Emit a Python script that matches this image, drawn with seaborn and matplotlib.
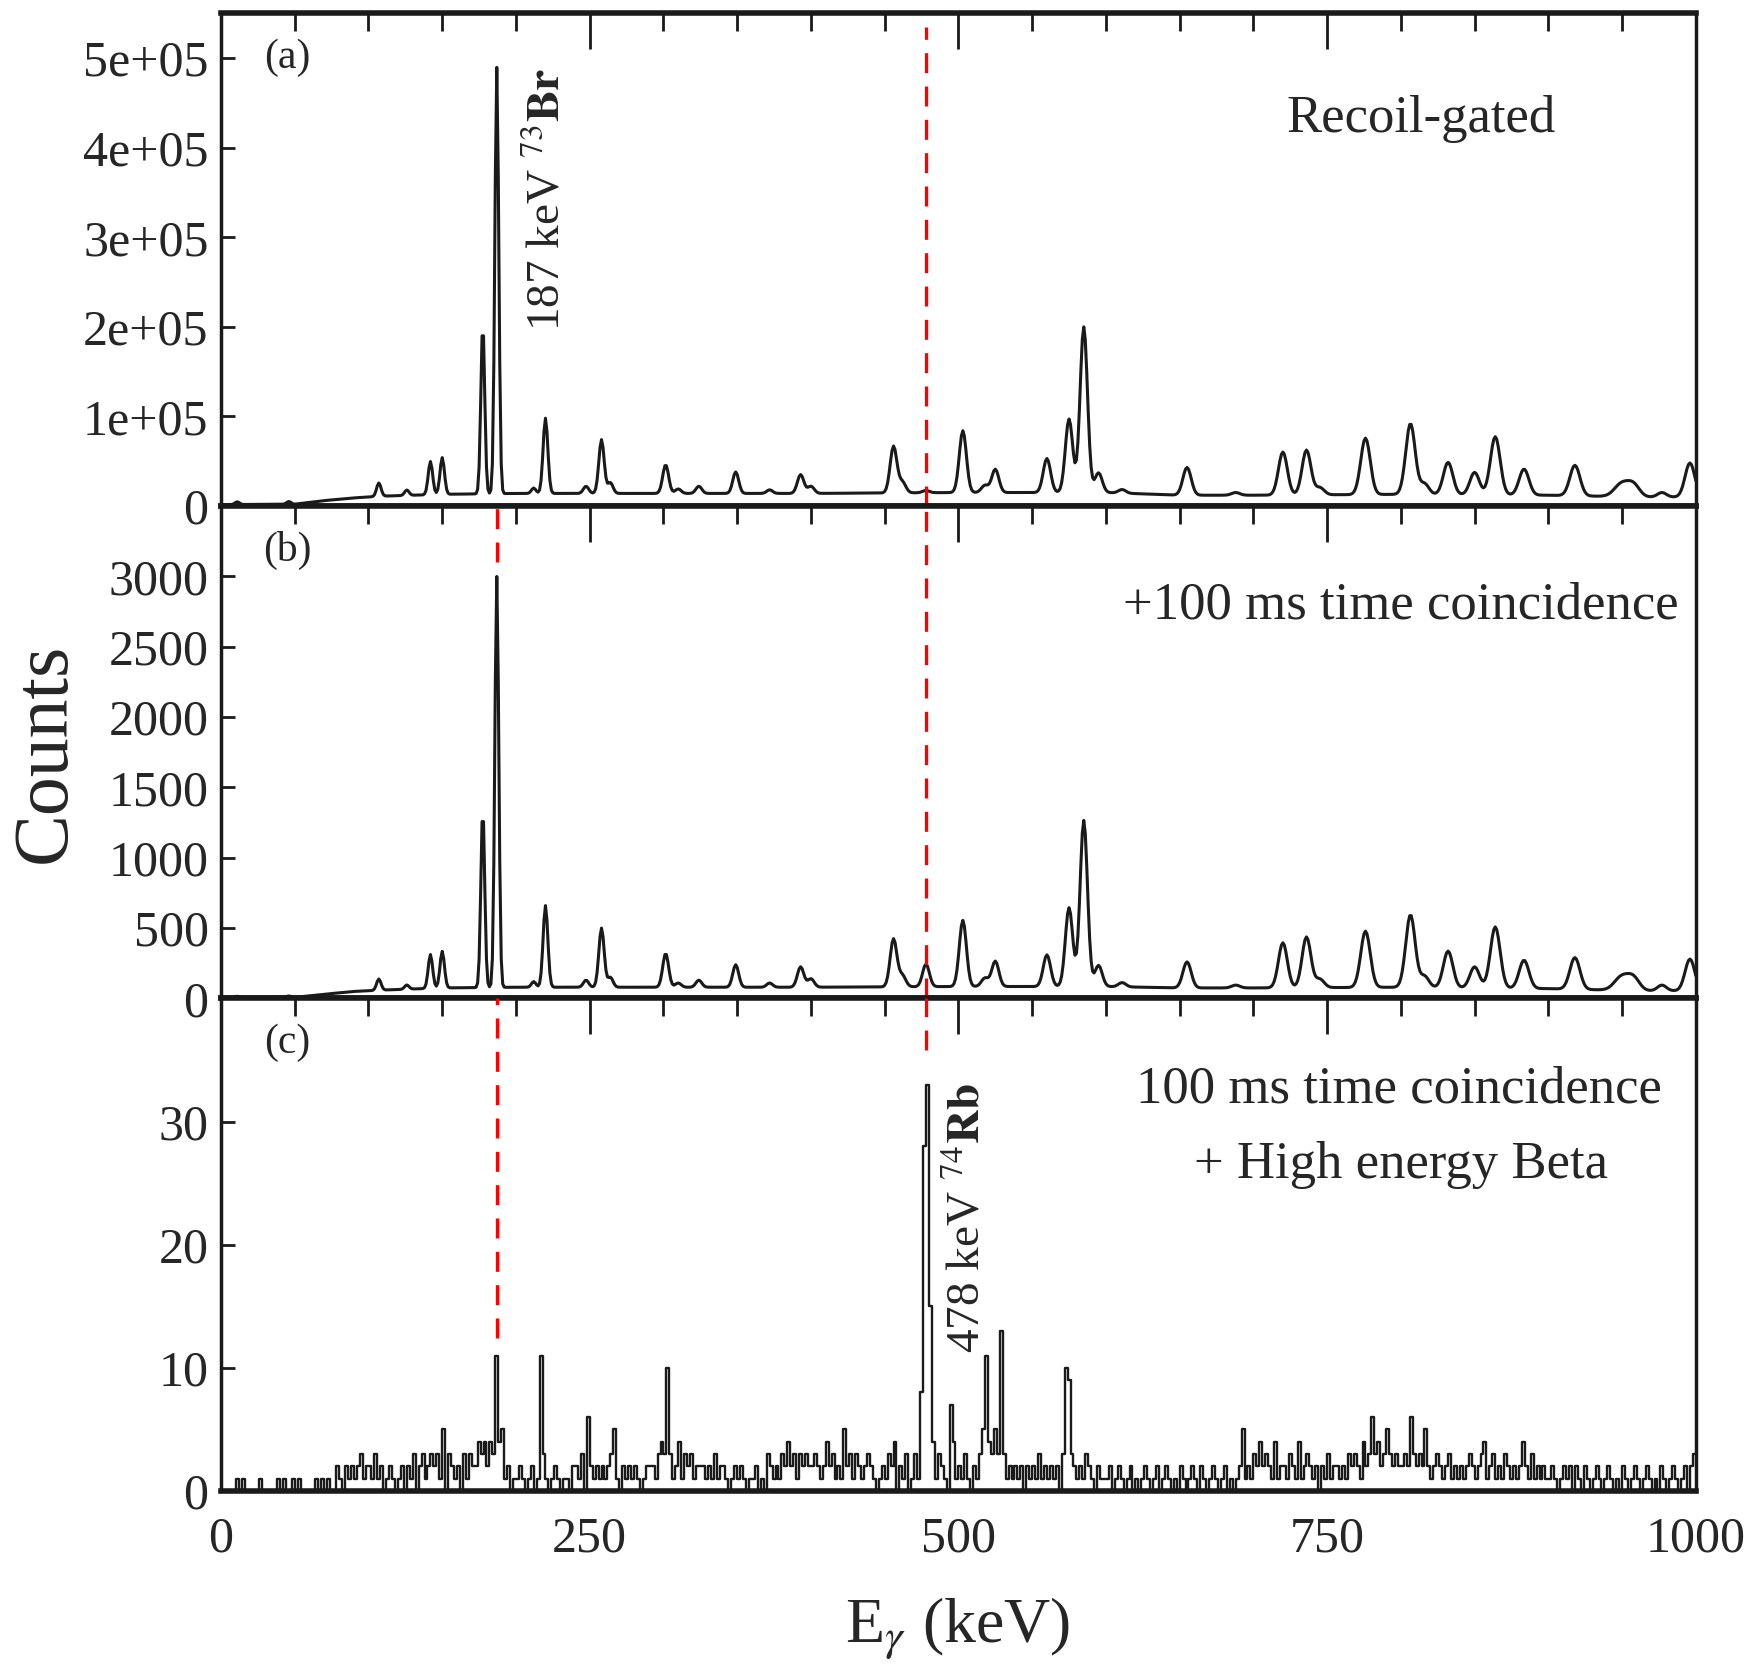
import numpy as np
import pandas as pd
import seaborn as sns
import matplotlib.pyplot as plt
from matplotlib.ticker import MultipleLocator, FuncFormatter

# peak list (a) and (b): centroid (keV), sigma (keV), height above background
peak_energy = [11, 46, 107, 126, 142, 150, 177.5, 187, 212, 220, 247.5, 258, 264,
               301.5, 310, 324, 349, 372, 393, 400, 456, 462, 478, 503, 518, 525,
               560, 575, 585, 595, 611, 655, 688, 720, 736, 745, 776, 806.5, 816,
               832, 850, 864, 883.5, 918, 950, 958, 977, 996]
peak_sigma = [1.5, 1.5, 1.5, 1.5, 1.5, 1.5, 1.3, 1.3, 1.5, 1.6, 1.8, 1.8, 1.8,
              2.0, 2.0, 2.0, 2.0, 2.0, 2.2, 2.2, 2.3, 2.3, 2.3, 2.4, 2.4, 2.4,
              2.5, 2.5, 2.5, 2.5, 2.5, 2.8, 2.8, 3.0, 3.0, 3.0, 3.2, 3.2, 3.0,
              3.2, 3.2, 3.3, 3.3, 3.4, 5.0, 4.0, 3.0, 3.3]
height_a = [3000, 3000, 15000, 6000, 37000, 41000, 190000, 476000, 6000, 84000, 8000, 60000, 12000,
            32000, 5000, 8000, 24000, 4000, 21000, 8000, 52000, 12000, 2500, 69000, 8000, 26000,
            38000, 82000, 185000, 22000, 4000, 31000, 3000, 48000, 50000, 8000, 63000, 79000, 12000,
            36000, 25000, 65000, 29000, 34000, 15000, 12000, 5000, 38000]
height_b = [10, 10, 80, 30, 240, 260, 1270, 2920, 40, 580, 50, 420, 70,
            240, 30, 50, 160, 30, 145, 60, 340, 80, 160, 470, 60, 180,
            225, 560, 1180, 150, 30, 185, 20, 320, 360, 60, 400, 515, 80,
            260, 150, 435, 200, 225, 100, 80, 40, 225]

# background level read at a few energies
bg_energy = [0, 50, 70, 90, 110, 150, 200, 300, 400, 500, 600, 650, 700, 800, 900, 960, 1000]
bg_a = [1500, 2000, 6000, 9000, 11000, 13000, 14000, 14000, 14000, 15000, 15000, 12000,
        12000, 13000, 12000, 10000, 10000]
bg_b = [5, 8, 30, 50, 60, 75, 80, 80, 80, 85, 85, 75, 75, 80, 70, 55, 55]

# panel (c): counts per 2 keV bin, one string per 100 keV, base-36 digits (A=10 ... X=33)
counts_c_text = [
    "0000010100" "0001000001" "0100101000" "0010101002" "1021212312",
    "2131201210" "1202130231" "2323150321" "2031322434" "243B451201",
    "12101201B3" "1012101102" "2130621212" "1235102121" "2101222134",
    "3A31241323" "1222121312" "2101212101" "1201032121" "3242313232",
    "2321242312" "1523132123" "2101213240" "21301318SX" "F413210741",
    "213102135B" "4353D31212" "1202121312" "121203A932" "1213210211",
    "1201210120" "1012101201" "2101021012" "1021012101" "2010125121",
    "3242321412" "2132141232" "1202131221" "2132321423" "6342353232",
    "2326323252" "1232123121" "2123212341" "2312132121" "2421312121",
    "1210121202" "1021012101" "2101021012" "1012101021" "0121012023",
]

# red dashed markers: panel, energy, y from, y to
markers = [(0, 478, 0, 5.35e5), (1, 478, 0, 3500), (2, 478, 35.8, 40),
           (1, 187, 3100, 3500), (2, 187, 12.4, 40)]

panel_tags = ["(a)", "(b)", "(c)"]
ylims = [5.5e5, 3500, 40]
yticks = [[0, 1e5, 2e5, 3e5, 4e5, 5e5],
          [0, 500, 1000, 1500, 2000, 2500, 3000],
          [0, 10, 20, 30]]

energy = np.arange(0, 1001, 1.0)


def spectrum(heights, bg):
    y = np.interp(energy, bg_energy, bg)
    for e, s, h in zip(peak_energy, peak_sigma, heights):
        y = y + h * np.exp(-0.5 * ((energy - e) / s) ** 2)
    return y


counts_c = [int(ch, 36) for seg in counts_c_text for ch in seg]
assert len(counts_c) == 500
df_c = pd.DataFrame({"E": np.arange(1, 1000, 2.0), "counts": counts_c})

sns.set_theme(style="white")
plt.rcParams["font.family"] = ["Liberation Serif", "DejaVu Serif"]
plt.rcParams["mathtext.fontset"] = "stix"

fig, axes = plt.subplots(3, 1, figsize=(17.61, 16.8), dpi=100, sharex=True,
                         gridspec_kw=dict(hspace=0))
fig.subplots_adjust(left=0.1255, right=0.963, top=0.992, bottom=0.1125)

df_a = pd.DataFrame({"E": energy, "counts": spectrum(height_a, bg_a)})
df_b = pd.DataFrame({"E": energy, "counts": spectrum(height_b, bg_b)})
sns.lineplot(data=df_a, x="E", y="counts", ax=axes[0], color="k", lw=2.2, estimator=None)
sns.lineplot(data=df_b, x="E", y="counts", ax=axes[1], color="k", lw=2.2, estimator=None)
sns.histplot(data=df_c, x="E", weights="counts", binwidth=2, binrange=(0, 1000),
             element="step", fill=False, color="k", lw=1.7, ax=axes[2])

for p, e, y0, y1 in markers:
    axes[p].plot([e, e], [y0, y1], color="red", lw=2.4, ls=(0, (6, 4)), zorder=3)

for i, ax in enumerate(axes):
    ax.set_xlim(0, 1000)
    ax.set_ylim(0, ylims[i])
    ax.set_yticks(yticks[i])
    ax.xaxis.set_major_locator(MultipleLocator(250))
    ax.xaxis.set_minor_locator(MultipleLocator(50))
    ax.set_xlabel("")
    ax.set_ylabel("")
    ax.tick_params(axis="x", which="both", direction="in", top=True, bottom=False,
                   labelbottom=(i == 2), labelsize=36, pad=18, width=2, color="k")
    ax.tick_params(axis="x", which="major", length=26)
    ax.tick_params(axis="x", which="minor", length=13)
    ax.tick_params(axis="y", direction="in", left=True, right=False, length=10, width=2,
                   labelsize=36, pad=9, color="k")
    for side in ["left", "right"]:
        ax.spines[side].set_linewidth(2.5)
    for side in ["top", "bottom"]:
        ax.spines[side].set_linewidth(4)
    for sp in ax.spines.values():
        sp.set_color("k")
    ax.text(0.045, 0.91, panel_tags[i], transform=ax.transAxes, fontsize=30,
            ha="center", va="center")

axes[0].yaxis.set_major_formatter(FuncFormatter(lambda v, _: "0" if v == 0 else f"{v:.0e}"))

axes[0].text(0.8136, 0.785, "Recoil-gated", transform=axes[0].transAxes, fontsize=38,
             ha="center", va="center")
axes[1].text(0.80, 0.797, "+100 ms time coincidence", transform=axes[1].transAxes,
             fontsize=38, ha="center", va="center")
axes[2].text(0.799, 0.816, "100 ms time coincidence", transform=axes[2].transAxes,
             fontsize=38, ha="center", va="center")
axes[2].text(0.80, 0.661, "+ High energy Beta", transform=axes[2].transAxes,
             fontsize=38, ha="center", va="center")

axes[0].text(229.8, 195800, r"187 keV $^{73}$$\mathbf{Br}$", rotation=90,
             rotation_mode="anchor", ha="left", va="baseline", fontsize=34)
axes[2].text(514.6, 11.2, r"478 keV $^{74}$$\mathbf{Rb}$", rotation=90,
             rotation_mode="anchor", ha="left", va="baseline", fontsize=34)

fig.text(0.026, 0.552, "Counts", rotation=90, ha="center", va="center", fontsize=56)
fig.text(0.544, 0.022, r"E$_{\gamma}$ (keV)", ha="center", va="baseline", fontsize=46)

fig.savefig("out.png", dpi=100)
